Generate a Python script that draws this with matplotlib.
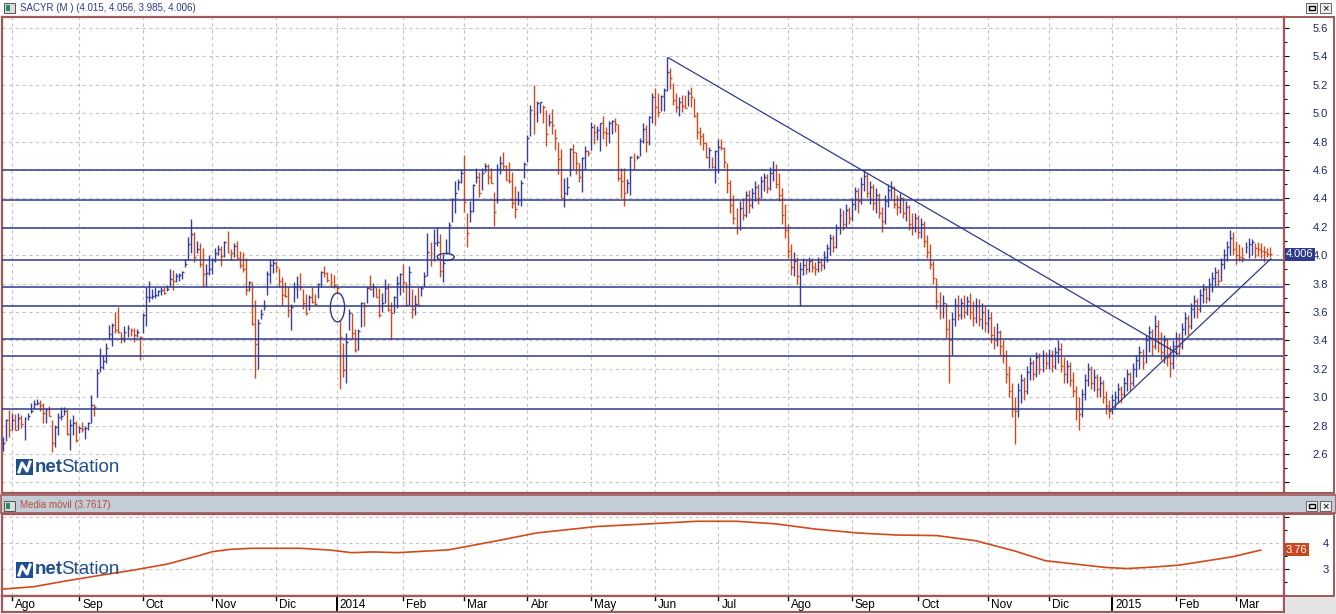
import matplotlib
matplotlib.use('Agg')
import matplotlib.pyplot as plt
from matplotlib.patches import Ellipse, Rectangle
from matplotlib.ticker import FixedLocator, FormatStrFormatter
import matplotlib.transforms as mtransforms
import numpy as np
import pandas as pd

plt.rcParams['font.family'] = ['Liberation Sans', 'DejaVu Sans']

# sesiones de la bolsa
festivos = ['2013-12-25', '2013-12-26', '2014-01-01', '2014-04-18', '2014-05-01',
            '2014-12-25', '2014-12-26', '2015-01-01']
fechas = pd.bdate_range('2013-07-29', '2015-03-17', freq='C', holidays=festivos)

maximos = [
    2.72, 2.845, 2.91, 2.89, 2.88, 2.887, 2.875, 2.86, 2.887, 2.957, 2.98, 2.99, 2.98, 2.957, 2.92, 2.94,
    2.84, 2.805, 2.887, 2.93, 2.93, 2.915, 2.845, 2.875, 2.835, 2.798, 2.828, 2.798, 2.828, 3.016, 2.95,
    3.197, 3.345, 3.30, 3.384, 3.509, 3.525, 3.603, 3.633, 3.462, 3.50, 3.509, 3.49, 3.485, 3.478, 3.431,
    3.59, 3.774, 3.819, 3.76, 3.774, 3.755, 3.779, 3.774,
    3.79, 3.90, 3.896, 3.873, 3.873, 3.889, 3.971, 4.131, 4.255, 4.166, 4.10, 4.089, 4.049, 3.938, 4.002,
    3.978, 4.053, 4.072, 4.065, 4.10, 4.171, 4.042, 4.089, 4.10, 4.03, 4.025, 3.978, 3.819, 3.814, 3.685,
    3.551, 3.619, 3.685, 3.889, 3.971, 3.971, 3.96, 3.908, 3.844, 3.809, 3.774, 3.657, 3.814, 3.854, 3.873,
    3.762, 3.727, 3.72, 3.774, 3.727, 3.802, 3.891, 3.924,
    3.884, 3.872, 3.86, 3.79, 3.544, 3.379, 3.454, 3.619, 3.595, 3.478, 3.478, 3.673, 3.673, 3.783, 3.86,
    3.802, 3.778, 3.767, 3.731, 3.83, 3.802, 3.673, 3.713, 3.853, 3.877, 3.938, 3.813, 3.924, 3.76, 3.72,
    3.778, 3.783, 3.884, 4.159, 4.095, 4.182, 4.189, 4.149, 4.008, 4.111, 4.236, 4.40, 4.525, 4.534, 4.604,
    4.705, 4.295, 4.384, 4.501, 4.611, 4.588, 4.611, 4.651,
    4.642, 4.612, 4.447, 4.642, 4.699, 4.727, 4.635, 4.659, 4.588, 4.487, 4.454, 4.529, 4.659, 4.846, 5.058,
    5.198, 5.086, 5.08, 5.058, 5.022, 4.994, 5.027, 4.886, 4.80, 4.745, 4.541, 4.548, 4.752, 4.783, 4.729,
    4.647, 4.689, 4.769, 4.741, 4.94, 4.924, 4.91, 4.933, 4.98, 4.90, 4.947, 4.952, 4.964, 4.924, 4.612,
    4.612, 4.534, 4.699, 4.717, 4.705, 4.823, 4.928, 4.917,
    4.98, 5.14, 5.175, 5.14, 5.128, 5.175, 5.398, 5.316, 5.21, 5.14, 5.116, 5.128, 5.128, 5.163, 5.187,
    5.105, 5.011, 4.905, 4.858, 4.80, 4.764, 4.694, 4.741, 4.816, 4.816, 4.764, 4.652, 4.53,
    4.42, 4.33, 4.38, 4.40, 4.45, 4.46, 4.47, 4.52, 4.50, 4.56, 4.58, 4.57, 4.62, 4.66, 4.64, 4.58, 4.47,
    4.36, 4.22, 4.08, 4.02, 3.99, 3.95, 3.98, 3.97, 3.99, 3.98, 3.95, 3.99, 3.98, 4.03, 4.08, 4.15, 4.14,
    4.22, 4.33, 4.32, 4.36, 4.34, 4.40, 4.48, 4.47, 4.55, 4.60, 4.58, 4.52, 4.50, 4.47, 4.44, 4.34, 4.42,
    4.50, 4.52, 4.49, 4.42, 4.44, 4.41, 4.38, 4.35, 4.30, 4.30, 4.28, 4.26, 4.24, 4.14, 4.08, 3.96, 3.84,
    3.74, 3.72, 3.66, 3.55, 3.60, 3.70, 3.72, 3.70, 3.72, 3.71, 3.73, 3.68, 3.70, 3.69, 3.66, 3.64, 3.62,
    3.60, 3.50, 3.52, 3.47, 3.40, 3.33, 3.22, 3.10, 3.00, 3.10, 3.16, 3.14, 3.22, 3.28, 3.26, 3.32, 3.31,
    3.33, 3.32, 3.34, 3.33, 3.35, 3.40, 3.38, 3.28, 3.26, 3.25, 3.18, 3.08, 3.00, 3.06, 3.16, 3.24, 3.22,
    3.20, 3.16, 3.15, 3.12, 3.04, 2.98, 3.02, 3.04, 3.10, 3.08, 3.14, 3.20, 3.18, 3.24, 3.30, 3.36, 3.34,
    3.44, 3.50, 3.48, 3.58, 3.54, 3.46, 3.44, 3.42, 3.36, 3.40, 3.46, 3.45, 3.52, 3.60, 3.58, 3.66, 3.72,
    3.70, 3.76, 3.80, 3.78, 3.84, 3.88, 3.92, 3.90, 3.98, 4.04, 4.10, 4.18, 4.16, 4.10, 4.08, 4.06, 4.096,
    4.119, 4.112, 4.089, 4.096, 4.084, 4.065, 4.049, 4.056,
]
minimos = [
    2.62, 2.69, 2.72, 2.77, 2.77, 2.77, 2.78, 2.70, 2.84, 2.887, 2.915, 2.946, 2.90, 2.82, 2.82, 2.865,
    2.617, 2.652, 2.735, 2.84, 2.875, 2.735, 2.63, 2.735, 2.687, 2.75, 2.758, 2.706, 2.77, 2.817, 2.865,
    3.004, 3.18, 3.20, 3.24, 3.408, 3.361, 3.45, 3.455, 3.38, 3.39, 3.427, 3.43, 3.39, 3.427, 3.262,
    3.455, 3.502, 3.673, 3.69, 3.697, 3.713, 3.72, 3.725,
    3.75, 3.784, 3.755, 3.814, 3.821, 3.83, 3.92, 3.966, 4.013, 3.955, 4.013, 3.913, 3.774, 3.774, 3.861,
    3.868, 3.955, 4.002, 3.924, 3.99, 4.018, 3.966, 3.985, 3.978, 3.908, 3.884, 3.72, 3.744, 3.509, 3.133,
    3.197, 3.549, 3.615, 3.72, 3.807, 3.877, 3.884, 3.774, 3.65, 3.704, 3.567, 3.474, 3.673, 3.697, 3.755,
    3.619, 3.579, 3.614, 3.666, 3.65, 3.697, 3.774, 3.844,
    3.814, 3.778, 3.767, 3.727, 3.055, 3.14, 3.102, 3.473, 3.407, 3.32, 3.332, 3.497, 3.501, 3.661, 3.755,
    3.708, 3.703, 3.562, 3.602, 3.666, 3.609, 3.408, 3.595, 3.626, 3.72, 3.743, 3.642, 3.649, 3.555, 3.579,
    3.64, 3.713, 3.783, 3.853, 3.924, 3.961, 4.065, 3.849, 3.813, 4.008, 4.013, 4.236, 4.30, 4.459, 4.506,
    4.306, 4.055, 4.236, 4.306, 4.506, 4.407, 4.459, 4.588,
    4.501, 4.506, 4.206, 4.37, 4.572, 4.60, 4.529, 4.51, 4.33, 4.26, 4.353, 4.346, 4.541, 4.659, 4.839,
    4.853, 4.94, 5.004, 4.933, 4.769, 4.91, 4.853, 4.741, 4.572, 4.40, 4.337, 4.424, 4.558, 4.605, 4.572,
    4.518, 4.447, 4.605, 4.698, 4.741, 4.783, 4.811, 4.736, 4.816, 4.769, 4.788, 4.853, 4.87, 4.525, 4.40,
    4.346, 4.44, 4.424, 4.605, 4.675, 4.699, 4.792, 4.729,
    4.776, 4.93, 4.917, 4.976, 5.018, 5.016, 5.159, 5.168, 5.058, 5.011, 4.98, 5.011, 5.034, 5.05, 5.046,
    4.971, 4.816, 4.776, 4.741, 4.682, 4.612, 4.612, 4.511, 4.577, 4.741, 4.612, 4.436, 4.30,
    4.22, 4.15, 4.18, 4.25, 4.27, 4.30, 4.33, 4.38, 4.36, 4.40, 4.45, 4.44, 4.46, 4.52, 4.47, 4.38, 4.22,
    4.12, 3.98, 3.86, 3.85, 3.80, 3.64, 3.86, 3.87, 3.88, 3.88, 3.86, 3.88, 3.89, 3.90, 3.95, 4.00, 4.02,
    4.05, 4.15, 4.18, 4.20, 4.22, 4.24, 4.32, 4.30, 4.36, 4.45, 4.40, 4.36, 4.32, 4.30, 4.26, 4.16, 4.22,
    4.34, 4.40, 4.33, 4.28, 4.30, 4.26, 4.24, 4.18, 4.14, 4.16, 4.12, 4.12, 4.06, 3.98, 3.90, 3.80, 3.62,
    3.55, 3.56, 3.42, 3.10, 3.30, 3.50, 3.54, 3.55, 3.56, 3.58, 3.55, 3.50, 3.52, 3.50, 3.48, 3.46, 3.45,
    3.38, 3.34, 3.36, 3.30, 3.24, 3.10, 3.00, 2.86, 2.67, 2.86, 2.96, 2.98, 3.02, 3.12, 3.12, 3.14, 3.16,
    3.18, 3.20, 3.20, 3.18, 3.20, 3.24, 3.18, 3.10, 3.10, 3.08, 3.00, 2.84, 2.77, 2.86, 2.98, 3.08, 3.06,
    3.04, 3.00, 3.00, 2.96, 2.88, 2.85, 2.88, 2.92, 2.96, 2.96, 3.00, 3.04, 3.04, 3.08, 3.14, 3.20, 3.20,
    3.24, 3.32, 3.30, 3.34, 3.32, 3.26, 3.24, 3.22, 3.14, 3.20, 3.30, 3.30, 3.34, 3.44, 3.44, 3.48, 3.56,
    3.56, 3.60, 3.66, 3.66, 3.68, 3.74, 3.78, 3.78, 3.82, 3.90, 3.96, 4.00, 4.00, 3.94, 3.96, 3.95, 4.013,
    3.978, 4.002, 3.978, 3.995, 3.978, 3.955, 3.99, 3.985,
]
cierres = [
    2.68, 2.84, 2.77, 2.84, 2.77, 2.85, 2.81, 2.85, 2.865, 2.905, 2.95, 2.957, 2.945, 2.887, 2.918, 2.868,
    2.676, 2.793, 2.859, 2.868, 2.90, 2.74, 2.805, 2.817, 2.699, 2.78, 2.774, 2.78, 2.82, 2.946, 2.934,
    3.173, 3.215, 3.258, 3.345, 3.445, 3.509, 3.474, 3.462, 3.42, 3.462, 3.49, 3.475, 3.438, 3.462, 3.427,
    3.579, 3.704, 3.708, 3.713, 3.718, 3.744, 3.755, 3.732,
    3.76, 3.83, 3.819, 3.854, 3.859, 3.884, 3.938, 4.077, 4.147, 3.985, 4.042, 3.936, 3.868, 3.877, 3.90,
    3.966, 4.013, 4.042, 3.995, 4.096, 4.025, 4.013, 4.065, 3.983, 3.931, 3.90, 3.755, 3.814, 3.514, 3.375,
    3.52, 3.584, 3.643, 3.868, 3.931, 3.943, 3.915, 3.819, 3.72, 3.715, 3.614, 3.633, 3.775, 3.783, 3.774,
    3.661, 3.596, 3.708, 3.673, 3.657, 3.797, 3.884, 3.873,
    3.825, 3.81, 3.79, 3.767, 3.426, 3.192, 3.391, 3.591, 3.454, 3.332, 3.469, 3.661, 3.645, 3.767, 3.76,
    3.778, 3.708, 3.579, 3.666, 3.767, 3.614, 3.595, 3.708, 3.802, 3.867, 3.813, 3.649, 3.884, 3.619, 3.656,
    3.65, 3.767, 3.853, 4.025, 4.018, 4.088, 4.095, 3.891, 3.943, 4.018, 4.213, 4.393, 4.436, 4.518, 4.576,
    4.377, 4.154, 4.313, 4.494, 4.553, 4.44, 4.576, 4.628,
    4.548, 4.506, 4.307, 4.605, 4.652, 4.628, 4.529, 4.52, 4.37, 4.323, 4.389, 4.511, 4.642, 4.823, 5.022,
    4.994, 5.069, 5.075, 5.041, 4.853, 4.94, 4.917, 4.823, 4.675, 4.40, 4.436, 4.483, 4.745, 4.729, 4.647,
    4.548, 4.682, 4.736, 4.722, 4.90, 4.87, 4.881, 4.928, 4.87, 4.86, 4.928, 4.947, 4.924, 4.54, 4.52,
    4.436, 4.506, 4.689, 4.67, 4.694, 4.806, 4.886, 4.80,
    4.976, 5.116, 5.046, 5.01, 5.12, 5.163, 5.293, 5.246, 5.093, 5.046, 5.081, 5.05, 5.035, 5.14, 5.116,
    4.98, 4.87, 4.84, 4.793, 4.694, 4.741, 4.624, 4.73, 4.764, 4.753, 4.659, 4.506, 4.35,
    4.26, 4.20, 4.33, 4.28, 4.42, 4.35, 4.44, 4.48, 4.40, 4.52, 4.55, 4.47, 4.58, 4.60, 4.50, 4.42, 4.28,
    4.18, 4.03, 3.92, 3.96, 3.85, 3.90, 3.93, 3.90, 3.96, 3.92, 3.90, 3.95, 3.93, 3.99, 4.05, 4.12, 4.06,
    4.19, 4.28, 4.22, 4.32, 4.26, 4.36, 4.45, 4.38, 4.50, 4.56, 4.44, 4.48, 4.37, 4.42, 4.30, 4.24, 4.38,
    4.46, 4.48, 4.36, 4.34, 4.40, 4.30, 4.34, 4.22, 4.20, 4.26, 4.16, 4.22, 4.10, 4.02, 3.94, 3.84, 3.68,
    3.60, 3.66, 3.48, 3.40, 3.55, 3.65, 3.58, 3.66, 3.60, 3.68, 3.60, 3.56, 3.64, 3.55, 3.60, 3.52, 3.56,
    3.44, 3.40, 3.46, 3.36, 3.30, 3.16, 3.04, 2.92, 2.90, 3.05, 3.12, 3.04, 3.18, 3.24, 3.16, 3.28, 3.20,
    3.30, 3.24, 3.30, 3.22, 3.32, 3.34, 3.22, 3.16, 3.22, 3.12, 3.04, 2.92, 2.88, 3.02, 3.12, 3.20, 3.10,
    3.14, 3.06, 3.10, 3.00, 2.94, 2.90, 2.98, 3.00, 3.06, 3.02, 3.10, 3.16, 3.10, 3.20, 3.26, 3.32, 3.24,
    3.40, 3.46, 3.36, 3.50, 3.38, 3.32, 3.40, 3.28, 3.24, 3.36, 3.42, 3.36, 3.48, 3.56, 3.50, 3.62, 3.68,
    3.62, 3.72, 3.76, 3.70, 3.80, 3.84, 3.88, 3.82, 3.94, 4.00, 4.06, 4.12, 4.04, 4.00, 3.99, 3.98, 4.06,
    4.08, 4.09, 4.05, 4.04, 4.03, 4.02, 4.01, 4.006,
]

mm_sesion = [0, 10, 21, 32, 43, 54, 65, 69, 75, 82, 98, 108, 115, 122, 130, 147, 163, 176, 196, 213,
             229, 242, 255, 268, 282, 295, 308, 321, 334, 344, 364, 371, 380, 388, 399, 406, 415]
mm_valor = [2.24, 2.33, 2.56, 2.77, 2.97, 3.20, 3.54, 3.68, 3.77, 3.81, 3.81, 3.74, 3.64, 3.67, 3.64,
            3.75, 4.10, 4.40, 4.65, 4.75, 4.85, 4.85, 4.75, 4.55, 4.40, 4.32, 4.30, 4.10, 3.70, 3.33,
            3.07, 3.03, 3.09, 3.16, 3.36, 3.49, 3.74]

# líneas dibujadas sobre el gráfico
niveles = [4.60, 4.39, 4.19, 3.964, 3.774, 3.64, 3.408, 3.29, 2.915]
bajista_x, bajista_y = [219.5, 387.7], [5.39, 3.306]
alcista_x, alcista_y = [365.3, 418.4], [2.905, 3.975]
elipses = [(110.3, 3.632, 4.7, 0.204), (146.0, 3.987, 5.6, 0.05)]

ultimo_precio = 4.006
ultima_mm = 3.76

meses_es = {1: 'Ene', 2: 'Feb', 3: 'Mar', 4: 'Abr', 5: 'May', 6: 'Jun', 7: 'Jul', 8: 'Ago',
            9: 'Sep', 10: 'Oct', 11: 'Nov', 12: 'Dic'}

AZUL = '#363f96'
ROJO = '#d24a1c'
MARCO = '#a05858'
REJILLA = '#c4c4c4'
TXT = '#1e2566'

W, H = 1336, 614


def caja(x0, y0, x1, y1):
    return [x0 / W, 1 - y1 / H, (x1 - x0) / W, (y1 - y0) / H]


def rect(x0, y0, x1, y1, **kw):
    fig.add_artist(Rectangle((x0 / W, 1 - y1 / H), (x1 - x0) / W, (y1 - y0) / H,
                             transform=fig.transFigure, **kw))


def logo(x, y):
    # icono + texto netStation (x, y = esquina sup. izq. en píxeles)
    rect(x, y, x + 17, y + 16, fc='#1f4f8c', ec='none', zorder=20)
    zx = [x + 3, x + 6, x + 11, x + 14]
    zy = [y + 13, y + 4, y + 12, y + 3]
    fig.add_artist(plt.Line2D([v / W for v in zx], [1 - v / H for v in zy], color='white',
                              lw=2.2, transform=fig.transFigure, zorder=21))
    fig.text((x + 19) / W, 1 - (y + 8) / H, 'net', fontsize=13.5, fontweight='bold',
             color='#1f4f8c', va='center', ha='left', zorder=21)
    fig.text((x + 45) / W, 1 - (y + 8) / H, 'Station', fontsize=13.5,
             color='#1f4f8c', va='center', ha='left', zorder=21)


fig = plt.figure(figsize=(W / 100, H / 100), dpi=100)
fig.patch.set_facecolor('white')

n = len(fechas)
xlim = (-0.43, 422.7)
inicio_mes = [i for i in range(1, n) if fechas[i].month != fechas[i - 1].month]
etiquetas = [str(fechas[i].year) if fechas[i].month == 1 else meses_es[fechas[i].month]
             for i in inicio_mes]

# ---- panel de precios ----
ax = fig.add_axes(caja(2, 17, 1284, 493))
ax.set_xlim(*xlim)
ax.set_ylim(2.325, 5.677)
ax.set_axisbelow(True)

x = np.arange(len(cierres))
c = np.array(cierres)
sube = np.r_[True, c[1:] >= c[:-1]]
colores = np.where(sube, AZUL, ROJO)
ax.vlines(x, minimos, maximos, colors=colores, lw=1.0, zorder=3)
ax.hlines(cierres, x, x + 0.65, colors=colores, lw=1.0, zorder=3)

for nv in niveles:
    ax.axhline(nv, color='#2e3a8a', lw=1.1, zorder=4)
ax.plot(bajista_x, bajista_y, color='#2e3a8a', lw=0.9, zorder=4)
ax.plot(alcista_x, alcista_y, color='#2e3a8a', lw=0.9, zorder=4)
for ex, ey, ew, eh in elipses:
    ax.add_patch(Ellipse((ex, ey), ew, eh, fill=False, ec='#2e3a8a', lw=1.0, zorder=5))

ax.yaxis.tick_right()
ax.yaxis.set_major_locator(FixedLocator(np.round(np.arange(2.4, 5.61, 0.2), 1)))
ax.yaxis.set_minor_locator(FixedLocator(np.round(np.arange(2.4, 5.7, 0.1), 1)))
ax.yaxis.set_major_formatter(FormatStrFormatter('%.1f'))
ax.tick_params(axis='y', which='major', length=3.6, width=0.8, color='black', pad=17,
               labelsize=8, labelcolor=TXT)
ax.tick_params(axis='y', which='minor', length=1.8, width=0.8, color='black')
ax.set_xticks(inicio_mes)
ax.tick_params(axis='x', length=0, labelbottom=False)
ax.grid(True, axis='both', which='major', ls=(0, (3, 3)), color=REJILLA, lw=0.8)
for lab in ax.get_yticklabels():
    if lab.get_text() == '2.4':
        lab.set_visible(False)
for s in ax.spines.values():
    s.set_color(MARCO)
    s.set_linewidth(1.6)

trans = mtransforms.blended_transform_factory(ax.transAxes, ax.transData)
ax.text(1.0015, ultimo_precio, f'{ultimo_precio:.3f}', transform=trans, color='white', fontsize=8,
        ha='left', va='center', clip_on=False, zorder=10,
        bbox=dict(boxstyle='square,pad=0.15', fc='#2e3a8a', ec='none'))

# ---- panel media móvil ----
ax2 = fig.add_axes(caja(2, 514, 1284, 596))
ax2.set_xlim(*xlim)
ax2.set_ylim(1.973, 5.13)
ax2.set_axisbelow(True)
ax2.plot(mm_sesion, mm_valor, color=ROJO, lw=1.2, zorder=3)
ax2.yaxis.tick_right()
ax2.yaxis.set_major_locator(FixedLocator([3, 4, 5]))
ax2.yaxis.set_minor_locator(FixedLocator([2.0, 2.5, 3.5, 4.5]))
ax2.set_yticklabels(['3', '4', ''])
ax2.tick_params(axis='y', which='major', length=3.6, width=0.8, color='black', pad=24,
                labelsize=8, labelcolor=TXT)
ax2.tick_params(axis='y', which='minor', length=2.5, width=0.8, color='black')
ax2.set_xticks(inicio_mes)
ax2.tick_params(axis='x', length=0, labelbottom=False)
ax2.grid(True, axis='both', which='major', ls=(0, (3, 3)), color=REJILLA, lw=0.8)
for s in ax2.spines.values():
    s.set_color(MARCO)
    s.set_linewidth(1.6)
trans2 = mtransforms.blended_transform_factory(ax2.transAxes, ax2.transData)
ax2.text(1.0015, ultima_mm, f'{ultima_mm:.2f}', transform=trans2, color='white', fontsize=8,
         ha='left', va='center', clip_on=False, zorder=10,
         bbox=dict(boxstyle='square,pad=0.15', fc='#c8481e', ec='none'))

# ---- banda de fechas ----
ax3 = fig.add_axes(caja(2, 596, 1284, 612))
ax3.set_xlim(*xlim)
ax3.set_ylim(0, 1)
ax3.set_xticks([])
ax3.set_yticks([])
for i, et in zip(inicio_mes, etiquetas):
    if et.isdigit():
        ax3.plot([i, i], [0, 1], color='black', lw=1.4)
    else:
        ax3.plot([i, i], [1, 0.72], color='black', lw=1.0)
    ax3.text(i + 1.0, 0.42, et, fontsize=8.5, color='black', ha='left', va='center')
for s in ax3.spines.values():
    s.set_color(MARCO)
    s.set_linewidth(1.6)

# ---- marcos y barras de título ----
rect(1284, 17, 1334, 493, fc='none', ec=MARCO, lw=1.4)
rect(1284, 514, 1334, 596, fc='none', ec=MARCO, lw=1.4)
rect(1285, 597, 1336, 614, fc='#e4e4e4', ec='none')
rect(1, 495, 1336, 513, fc='#c3cdd8', ec=MARCO, lw=1.2)

for y0 in (3, 501):
    rect(4, y0, 15, y0 + 10, fc='#d8dde4', ec='#555555', lw=0.7)
    rect(6, y0 + 2, 10, y0 + 8, fc='#2f8a5a', ec='none')
    for bx in (1306, 1320):
        rect(bx, y0, bx + 11, y0 + 10, fc='#eeeeee', ec='#666666', lw=0.7)
    rect(1308.5, y0 + 3, 1314.5, y0 + 7, fc='none', ec='black', lw=1.0)
    fig.text(1325.5 / W, 1 - (y0 + 5) / H, '×', fontsize=8, ha='center', va='center', color='black')

fig.text(20 / W, 1 - 8 / H, 'SACYR (M ) (4.015, 4.056, 3.985, 4.006)', fontsize=7,
         color='#2e3a8a', ha='left', va='center')
fig.text(20 / W, 1 - 505 / H, 'Media móvil (3.7617)', fontsize=7,
         color='#b84a3a', ha='left', va='center')

logo(16, 459)
logo(16, 562)

fig.savefig('out.png', dpi=100)
